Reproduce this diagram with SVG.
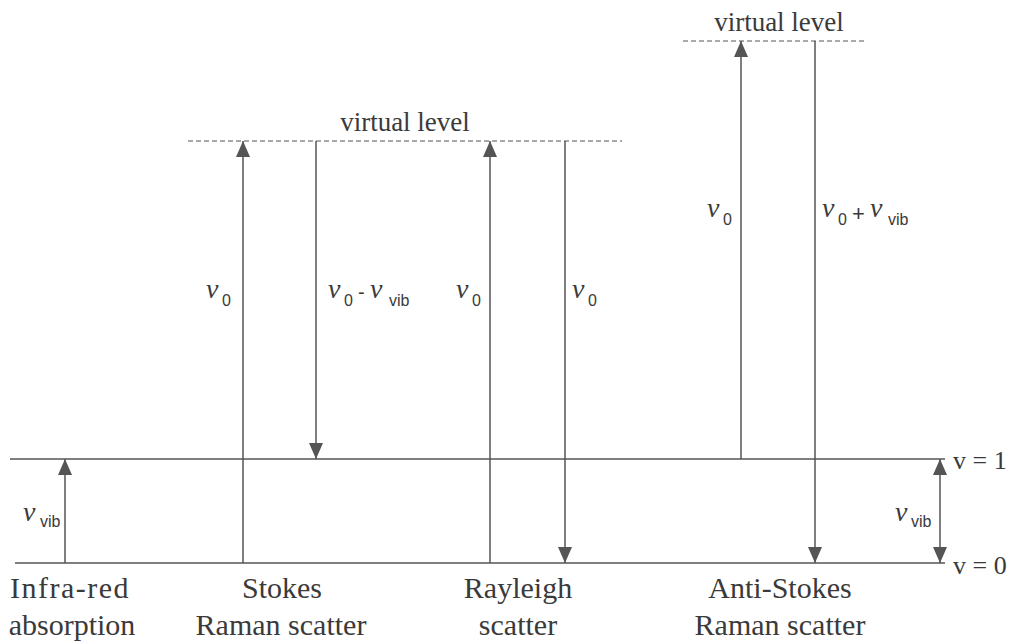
<svg xmlns="http://www.w3.org/2000/svg" width="1029" height="644" viewBox="0 0 1029 644">
<style>
.ln{stroke:#555;stroke-width:1.5;fill:none}
.dash{stroke:#555;stroke-width:1.2;stroke-dasharray:5,3;fill:none}
.txt{fill:#3a3a3a}
</style>
<defs>
<marker id="ah" markerUnits="userSpaceOnUse" markerWidth="16" markerHeight="14" refX="16" refY="7" orient="auto">
<path d="M0,0 L16,7 L0,14 z" fill="#555"/>
</marker>
</defs>
<rect width="1029" height="644" fill="#fff"/>
<g id="levels">
<line class="ln" x1="10" y1="459" x2="945" y2="459"/>
<line class="ln" x1="15" y1="563" x2="945" y2="563"/>
<line class="dash" x1="188" y1="141" x2="622" y2="141"/>
<line class="dash" x1="683" y1="41" x2="866" y2="41"/>
<g class="txt" font-family="'Liberation Serif', 'Times New Roman', serif">
<text x="405" y="131" text-anchor="middle" font-size="27">virtual level</text>
<text x="779" y="31" text-anchor="middle" font-size="27">virtual level</text>
<text x="953" y="469" font-size="26">v = 1</text>
<text x="953" y="574" font-size="26">v = 0</text>
</g>
</g>
<g id="connectors">
<line class="ln" x1="65" y1="563" x2="65" y2="459" marker-end="url(#ah)"/>
<line class="ln" x1="243" y1="563" x2="243" y2="141" marker-end="url(#ah)"/>
<line class="ln" x1="316" y1="141" x2="316" y2="459" marker-end="url(#ah)"/>
<line class="ln" x1="490" y1="563" x2="490" y2="141" marker-end="url(#ah)"/>
<line class="ln" x1="565" y1="141" x2="565" y2="563" marker-end="url(#ah)"/>
<line class="ln" x1="741" y1="459" x2="741" y2="41" marker-end="url(#ah)"/>
<line class="ln" x1="815" y1="41" x2="815" y2="563" marker-end="url(#ah)"/>
<line class="ln" x1="940" y1="511" x2="940" y2="459" marker-end="url(#ah)"/>
<line class="ln" x1="940" y1="511" x2="940" y2="563" marker-end="url(#ah)"/>
</g>
<g id="ir" class="txt">
<text x="23" y="521" font-family="'Liberation Serif', 'Times New Roman', serif" font-style="italic" font-size="28">ν</text>
<text x="40" y="527" font-family="'Liberation Sans', Arial, sans-serif" font-size="16">vib</text>
<text x="70" y="598" text-anchor="middle" font-family="'Liberation Serif', 'Times New Roman', serif" font-size="30" letter-spacing="1.5">Infra-red</text>
<text x="72" y="635" text-anchor="middle" font-family="'Liberation Serif', 'Times New Roman', serif" font-size="30">absorption</text>
</g>
<g id="stokes" class="txt">
<g font-family="'Liberation Serif', 'Times New Roman', serif" font-style="italic" font-size="28">
<text x="206" y="298">ν</text>
<text x="328" y="298">ν</text>
<text x="370" y="298">ν</text>
</g>
<g font-family="'Liberation Sans', Arial, sans-serif" font-size="16">
<text x="222" y="306">0</text>
<text x="344" y="306">0</text>
<text x="358" y="299" font-size="20">-</text>
<text x="389" y="306">vib</text>
</g>
<g font-family="'Liberation Serif', 'Times New Roman', serif" font-size="30" text-anchor="middle">
<text x="282" y="598">Stokes</text>
<text x="281" y="635">Raman scatter</text>
</g>
</g>
<g id="rayleigh" class="txt">
<g font-family="'Liberation Serif', 'Times New Roman', serif" font-style="italic" font-size="28">
<text x="456" y="298">ν</text>
<text x="572" y="298">ν</text>
</g>
<g font-family="'Liberation Sans', Arial, sans-serif" font-size="16">
<text x="472" y="306">0</text>
<text x="588" y="306">0</text>
</g>
<g font-family="'Liberation Serif', 'Times New Roman', serif" font-size="30" text-anchor="middle">
<text x="518" y="598">Rayleigh</text>
<text x="518" y="635">scatter</text>
</g>
</g>
<g id="antistokes" class="txt">
<g font-family="'Liberation Serif', 'Times New Roman', serif" font-style="italic" font-size="28">
<text x="707" y="217">ν</text>
<text x="822" y="217">ν</text>
<text x="870" y="217">ν</text>
</g>
<g font-family="'Liberation Sans', Arial, sans-serif" font-size="16">
<text x="723" y="225">0</text>
<text x="838" y="225">0</text>
<text x="852" y="221" font-size="22">+</text>
<text x="888" y="225">vib</text>
</g>
<g font-family="'Liberation Serif', 'Times New Roman', serif" font-size="30" text-anchor="middle">
<text x="780" y="598">Anti-Stokes</text>
<text x="780" y="635">Raman scatter</text>
</g>
</g>
<g id="vib" class="txt">
<text x="895" y="521" font-family="'Liberation Serif', 'Times New Roman', serif" font-style="italic" font-size="28">ν</text>
<text x="911" y="527" font-family="'Liberation Sans', Arial, sans-serif" font-size="16">vib</text>
</g>
</svg>
